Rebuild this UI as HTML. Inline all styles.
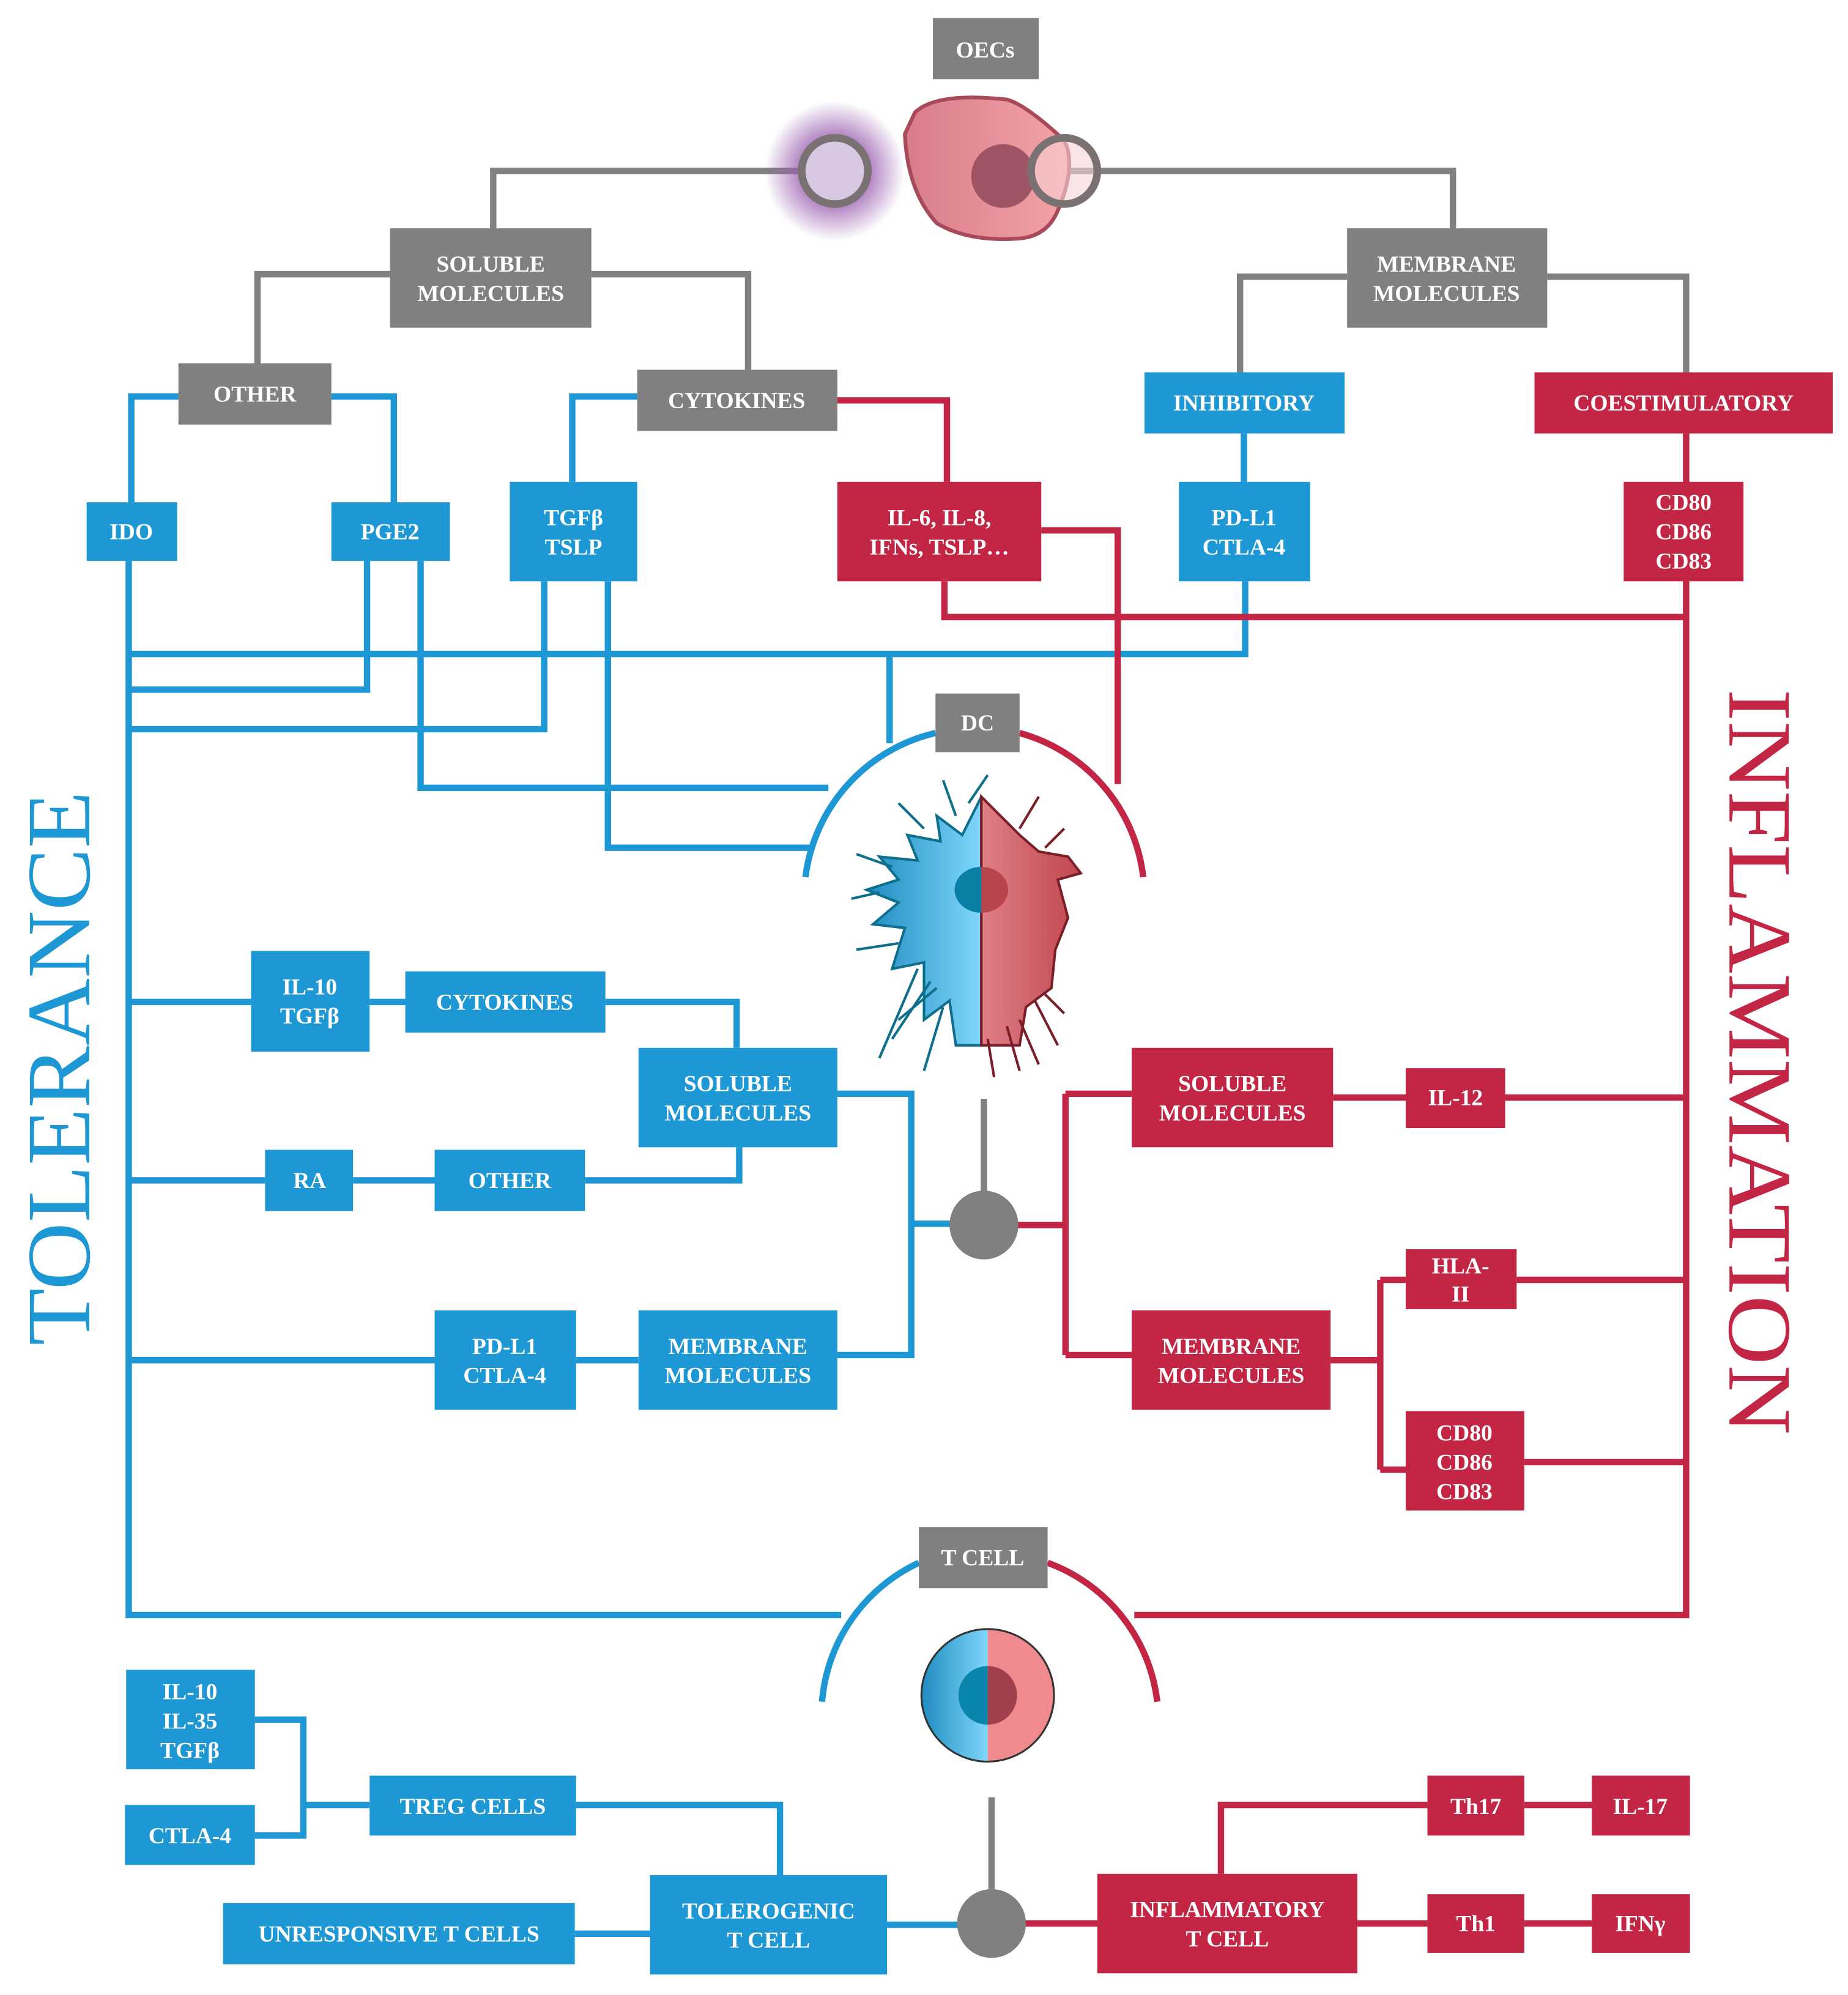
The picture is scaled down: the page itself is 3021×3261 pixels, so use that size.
<!DOCTYPE html>
<html><head><meta charset="utf-8"><style>
html,body{margin:0;padding:0;background:#fff}
svg{display:block}
text{font-family:"Liberation Serif",serif;fill:#fff;text-anchor:middle;font-size:18px;font-weight:bold}
</style></head><body>
<svg width="3021" height="3261" viewBox="0 0 1450 1565" xmlns="http://www.w3.org/2000/svg">
<defs>
<radialGradient id="glow"><stop offset="0.45" stop-color="#9a5fb0" stop-opacity="0.85"/><stop offset="1" stop-color="#9a5fb0" stop-opacity="0"/></radialGradient>
<linearGradient id="bl" x1="0" x2="1"><stop offset="0" stop-color="#1f8cc0"/><stop offset="1" stop-color="#7fd6fb"/></linearGradient>
<linearGradient id="rd" x1="0" x2="1"><stop offset="0" stop-color="#e07f87"/><stop offset="1" stop-color="#c0464f"/></linearGradient>
<linearGradient id="oec" x1="0" x2="1"><stop offset="0" stop-color="#d77d8a"/><stop offset="1" stop-color="#f4a3a7"/></linearGradient>
</defs>
<g fill="none" stroke-width="5" stroke-linejoin="miter">
<g stroke="#808080">
<path d="M655,134H387V179M835,134H1140V179M306,215H202V285M464,215H587V290M1057,217H973V292M1214,217H1323V292"/>
<path d="M772,862V935M778,1410V1482"/>
</g>
<g stroke="#1e98d5">
<path d="M140,311H103V394M260,311H309V394M500,311H449V378M976,340V378"/>
<path d="M101,440V1267H660"/>
<path d="M101,513H977V456M698,513V583M101,541H288V440M101,572H427V456M330,440V618H650M477,456V665H636"/>
<path d="M632,688A133,133 0 0 1 734,575"/>
<path d="M645,1335A132,132 0 0 1 721,1226"/>
<path d="M101,786H197M290,786H318M475,786H578V822M101,926H208M277,926H341M459,926H580V900M101,1067H341M452,1067H501"/>
<path d="M657,858H715V1063H657M715,960H748"/>
<path d="M200,1349H238V1440H200M238,1416H290M452,1416H612V1471M451,1517H510M696,1510H752"/>
</g>
<g stroke="#c32645">
<path d="M657,314H743V378M817,416H877V615M741,456V484H1323M1323,340V1267H890"/>
<path d="M800,575A133,133 0 0 1 897,688"/>
<path d="M822,1226A132,132 0 0 1 908,1335"/>
<path d="M797,961H836M836,858V1063M836,858H888M836,1063H888M1046,861H1103M1181,861H1323M1044,1067H1083M1083,1004V1153M1083,1004H1103M1083,1153H1103M1190,1004H1323M1196,1147H1323"/>
<path d="M804,1509H861M958,1470V1416H1120M1065,1509H1120M1196,1416H1249M1196,1509H1249"/>
</g>
</g>
<circle cx="655" cy="134" r="55" fill="url(#glow)"/>
<path d="M718,88Q735,72 790,78Q805,82 835,110Q845,130 830,165Q822,185 800,187Q760,190 735,175Q712,150 710,105Z" fill="url(#oec)" stroke="#a84a5a" stroke-width="3"/>
<circle cx="787" cy="138" r="25" fill="#a05566"/>
<circle cx="655" cy="134" r="26" fill="#d8c8e2" stroke="#7a7272" stroke-width="6"/>
<circle cx="835" cy="134" r="26" fill="#f7d4d6" fill-opacity="0.6" stroke="#7a7272" stroke-width="6"/>
<g>
<path d="M770,625L755,655L735,640L738,660L712,655L720,675L690,672L705,690L680,698L705,708L685,725L710,728L700,760L725,755L725,800L745,785L750,820L770,820Z" fill="url(#bl)" stroke="#0d6f8c" stroke-width="2"/>
<path d="M770,625L785,640L800,655L815,668L838,672L848,685L830,690L838,720L828,745L825,775L805,790L800,820L770,820Z" fill="url(#rd)" stroke="#7a1f28" stroke-width="2"/>
<g fill="none" stroke="#0d6f8c" stroke-width="2">
<path d="M720,760L690,830M730,770L700,815M705,740L672,745M690,700L668,705M700,680L672,670M725,650L705,630M750,640L740,612M760,630L775,608M740,790L725,840M735,775L705,800"/>
</g>
<g fill="none" stroke="#7a1f28" stroke-width="2">
<path d="M775,815L780,845M790,805L800,840M800,800L815,835M812,785L830,820M820,780L835,795M800,650L815,625M820,665L835,650"/>
</g>
<path d="M770,680A21,18 0 0 0 770,716Z" fill="#0a7fa5"/>
<path d="M770,680A21,18 0 0 1 770,716Z" fill="#b8444d"/>
</g>
<path d="M775,1278A52,52 0 0 0 775,1382Z" fill="url(#bl)"/>
<path d="M775,1278A52,52 0 0 1 775,1382Z" fill="#ef8a8f"/>
<circle cx="775" cy="1330" r="52" fill="none" stroke="#333" stroke-width="1.5"/>
<path d="M775,1307A23,23 0 0 0 775,1353Z" fill="#0a86ad"/>
<path d="M775,1307A23,23 0 0 1 775,1353Z" fill="#a0404c"/>
<circle cx="772" cy="961" r="27" fill="#808080"/>
<circle cx="778" cy="1509" r="27" fill="#808080"/>
<g fill="#808080">
<rect x="732" y="14" width="83" height="48"/>
<rect x="306" y="179" width="158" height="78"/>
<rect x="1057" y="179" width="157" height="78"/>
<rect x="140" y="285" width="120" height="48"/>
<rect x="500" y="290" width="157" height="48"/>
<rect x="734" y="544" width="66" height="46"/>
<rect x="721" y="1198" width="101" height="48"/>
</g>
<g fill="#1e98d5">
<rect x="898" y="292" width="157" height="48"/>
<rect x="68" y="394" width="71" height="46"/>
<rect x="260" y="394" width="93" height="46"/>
<rect x="400" y="378" width="100" height="78"/>
<rect x="925" y="378" width="103" height="78"/>
<rect x="197" y="746" width="93" height="79"/>
<rect x="318" y="762" width="157" height="48"/>
<rect x="501" y="822" width="156" height="78"/>
<rect x="208" y="902" width="69" height="48"/>
<rect x="341" y="902" width="118" height="48"/>
<rect x="341" y="1028" width="111" height="78"/>
<rect x="501" y="1028" width="156" height="78"/>
<rect x="99" y="1310" width="101" height="78"/>
<rect x="98" y="1416" width="102" height="47"/>
<rect x="290" y="1393" width="162" height="47"/>
<rect x="175" y="1493" width="276" height="48"/>
<rect x="510" y="1471" width="186" height="78"/>
</g>
<g fill="#c32645">
<rect x="1204" y="292" width="234" height="48"/>
<rect x="657" y="378" width="160" height="78"/>
<rect x="1274" y="378" width="94" height="78"/>
<rect x="888" y="822" width="158" height="78"/>
<rect x="1103" y="838" width="78" height="47"/>
<rect x="1103" y="980" width="87" height="47"/>
<rect x="888" y="1028" width="156" height="78"/>
<rect x="1103" y="1107" width="93" height="78"/>
<rect x="861" y="1470" width="204" height="78"/>
<rect x="1120" y="1393" width="76" height="47"/>
<rect x="1249" y="1393" width="77" height="47"/>
<rect x="1120" y="1486" width="76" height="46"/>
<rect x="1249" y="1486" width="77" height="46"/>
</g>
<text x="773" y="45">OECs</text>
<text x="385" y="213">SOLUBLE</text><text x="385" y="236">MOLECULES</text>
<text x="1135" y="213">MEMBRANE</text><text x="1135" y="236">MOLECULES</text>
<text x="200" y="315">OTHER</text>
<text x="578" y="320">CYTOKINES</text>
<text x="767" y="573">DC</text>
<text x="771" y="1228">T CELL</text>
<text x="976" y="322">INHIBITORY</text>
<text x="103" y="423">IDO</text>
<text x="306" y="423">PGE2</text>
<text x="450" y="412">TGFβ</text><text x="450" y="435">TSLP</text>
<text x="976" y="412">PD-L1</text><text x="976" y="435">CTLA-4</text>
<text x="243" y="780">IL-10</text><text x="243" y="803">TGFβ</text>
<text x="396" y="792">CYTOKINES</text>
<text x="579" y="856">SOLUBLE</text><text x="579" y="879">MOLECULES</text>
<text x="243" y="932">RA</text>
<text x="400" y="932">OTHER</text>
<text x="396" y="1062">PD-L1</text><text x="396" y="1085">CTLA-4</text>
<text x="579" y="1062">MEMBRANE</text><text x="579" y="1085">MOLECULES</text>
<text x="149" y="1333">IL-10</text><text x="149" y="1356">IL-35</text><text x="149" y="1379">TGFβ</text>
<text x="149" y="1446">CTLA-4</text>
<text x="371" y="1423">TREG CELLS</text>
<text x="313" y="1523">UNRESPONSIVE T CELLS</text>
<text x="603" y="1505">TOLEROGENIC</text><text x="603" y="1528">T CELL</text>
<text x="1321" y="322">COESTIMULATORY</text>
<text x="737" y="412">IL-6, IL-8,</text><text x="737" y="435">IFNs, TSLP…</text>
<text x="1321" y="400">CD80</text><text x="1321" y="423">CD86</text><text x="1321" y="446">CD83</text>
<text x="967" y="856">SOLUBLE</text><text x="967" y="879">MOLECULES</text>
<text x="1142" y="867">IL-12</text>
<text x="1146" y="999">HLA-</text><text x="1146" y="1021">II</text>
<text x="966" y="1062">MEMBRANE</text><text x="966" y="1085">MOLECULES</text>
<text x="1149" y="1130">CD80</text><text x="1149" y="1153">CD86</text><text x="1149" y="1176">CD83</text>
<text x="963" y="1504">INFLAMMATORY</text><text x="963" y="1527">T CELL</text>
<text x="1158" y="1423">Th17</text>
<text x="1287" y="1423">IL-17</text>
<text x="1158" y="1515">Th1</text>
<text x="1287" y="1515">IFNγ</text>
<text transform="translate(70,838) rotate(-90)" style="fill:#1e98d5;font-size:71px;font-weight:normal" textLength="435" lengthAdjust="spacingAndGlyphs">TOLERANCE</text>
<text transform="translate(1357,833) rotate(90)" style="fill:#c32645;font-size:71px;font-weight:normal" textLength="585" lengthAdjust="spacingAndGlyphs">INFLAMMATION</text>
</svg>
</body></html>
